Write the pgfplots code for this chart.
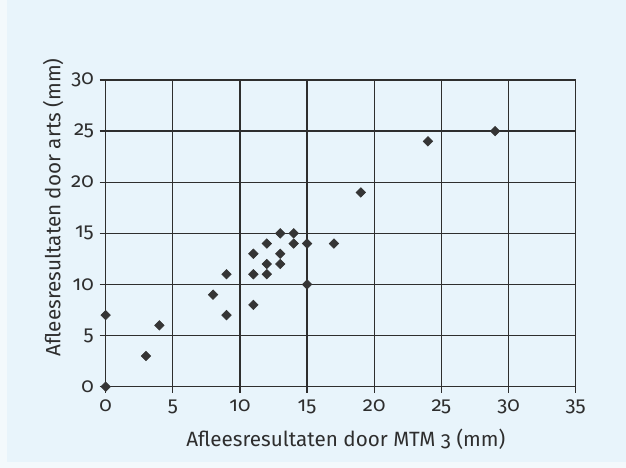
\documentclass[border=0pt]{standalone}
\usepackage{fontspec}
\setmainfont[Numbers=OldStyle]{Fira Sans}
\usepackage{pgfplots}
\pgfplotsset{compat=1.18}
\definecolor{paper}{HTML}{E8F4FB}
\definecolor{paperedge}{HTML}{F3F9FC}
\definecolor{ink}{HTML}{2E2E2E}
\definecolor{dot}{HTML}{353535}

\begin{document}
\begin{tikzpicture}[x=0.6pt, y=0.6pt]
  % scanned page background
  \fill[paperedge] (0,0) rectangle (626,468);
  \fill[paper] (7,6) rectangle (626,468);
  \useasboundingbox (0,0) rectangle (626,468);
  \begin{axis}[
    at={(63.4pt,48.8pt)}, anchor=south west,
    scale only axis,
    width=282pt, height=184pt,
    xmin=0, xmax=35, ymin=0, ymax=30,
    xtick={0,5,...,35}, ytick={0,5,...,30},
    grid=major,
    major grid style={ink, line width=0.8pt},
    axis line style={ink, line width=0.8pt},
    tick style={ink, line width=0.8pt, major tick length=3.6pt},
    tick align=outside,
    xtick pos=bottom, ytick pos=left,
    clip=false,
    axis background/.style={fill=paper},
    tick label style={font=\fontsize{12.3}{14}\selectfont, text=ink},
    /pgf/number format/assume math mode=true,
    xticklabel style={yshift=-1pt},
    xlabel={Afleesresultaten door MTM 3 (mm)},
    ylabel={Afleesresultaten door arts (mm)},
    label style={text=ink, font=\fontsize{12.4}{14}\selectfont},
    xlabel style={at={(axis description cs:0.511,-0.173)}, anchor=center},
    ylabel style={at={(axis description cs:-0.112,0.585)}, anchor=center},
  ]
  \addplot[only marks, mark=square*, mark size=2pt,
           mark options={rotate=45, fill=dot, draw=dot}]
    coordinates {
      (0,0) (0,7) (3,3) (4,6) (8,9) (9,7) (9,11) (11,8)
      (11,11) (11,13) (12,11) (12,12) (12,14) (13,12) (13,13)
      (13,15) (14,14) (14,15) (15,10) (15,14) (17,14)
      (19,19) (24,24) (29,25)
    };
  \end{axis}
\end{tikzpicture}
\end{document}
